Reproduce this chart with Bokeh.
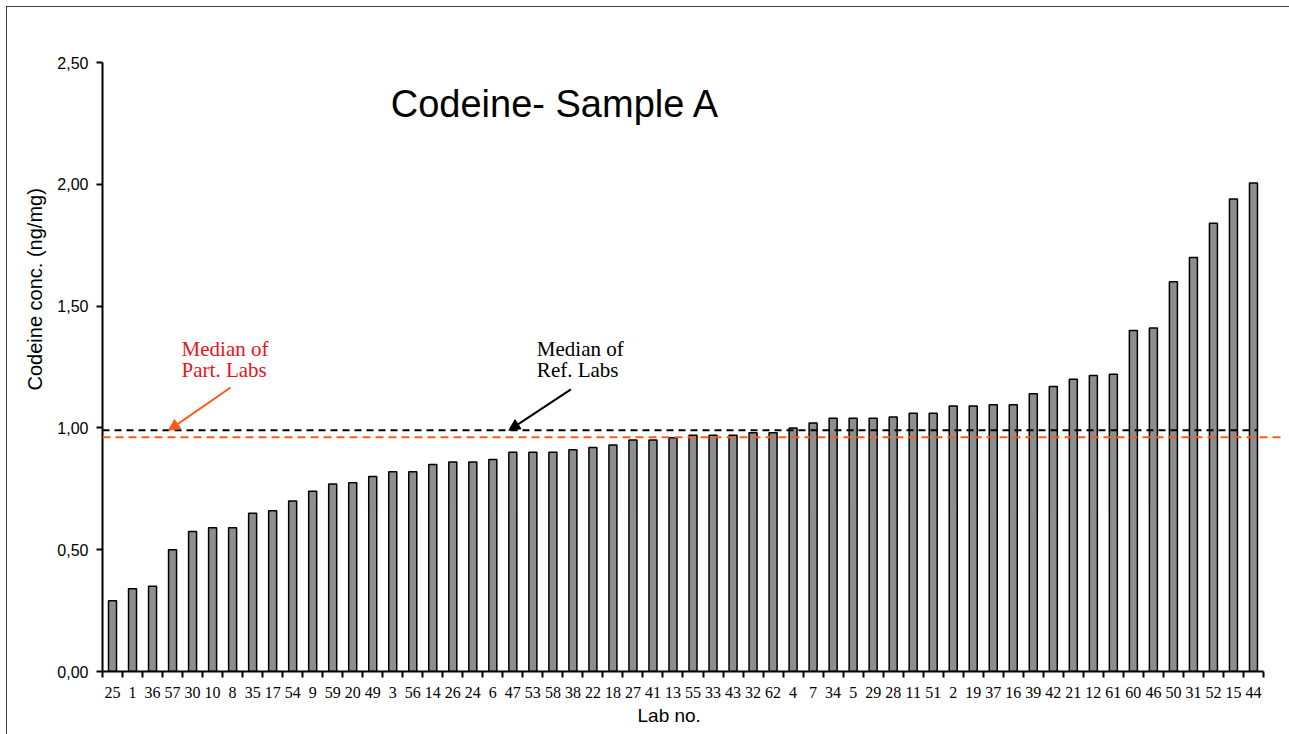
from bokeh.plotting import figure
from bokeh.models import FixedTicker, Label, Arrow, NormalHead, Range1d, Span, Title
from bokeh.embed import file_html
from bokeh.resources import INLINE

labs = ["25", "1", "36", "57", "30", "10", "8", "35", "17", "54",
        "9", "59", "20", "49", "3", "56", "14", "26", "24", "6",
        "47", "53", "58", "38", "22", "18", "27", "41", "13", "55",
        "33", "43", "32", "62", "4", "7", "34", "5", "29", "28",
        "11", "51", "2", "19", "37", "16", "39", "42", "21", "12",
        "61", "60", "46", "50", "31", "52", "15", "44"]
conc = [0.29, 0.34, 0.35, 0.50, 0.575, 0.59, 0.59, 0.65, 0.66, 0.70,
        0.74, 0.77, 0.775, 0.80, 0.82, 0.82, 0.85, 0.86, 0.86, 0.87,
        0.90, 0.90, 0.90, 0.91, 0.92, 0.93, 0.95, 0.95, 0.96, 0.97,
        0.97, 0.97, 0.98, 0.98, 1.00, 1.02, 1.04, 1.04, 1.04, 1.045,
        1.06, 1.06, 1.09, 1.09, 1.095, 1.095, 1.14, 1.17, 1.20, 1.215,
        1.22, 1.40, 1.41, 1.60, 1.70, 1.84, 1.94, 2.005]
ref_median = 0.99
part_median = 0.962
y_ticks = [0.0, 0.5, 1.0, 1.5, 2.0, 2.5]
y_tick_labels = ["0,00", "0,50", "1,00", "1,50", "2,00", "2,50"]

n = len(labs)
xs = list(range(1, n + 1))

p = figure(width=1283, height=728, x_range=Range1d(0.5, n + 1.4), y_range=Range1d(0, 2.5),
           output_backend="svg", toolbar_location=None,
           min_border_left=96, min_border_right=8, min_border_top=56, min_border_bottom=63)
p.styles = {"outline": "2px solid black", "outline-offset": "-2px",
            "margin-left": "6px", "margin-top": "6px"}
p.outline_line_color = None
p.xgrid.visible = False
p.ygrid.visible = False
p.background_fill_color = "white"
p.border_fill_color = "white"

p.vbar(x=xs, top=conc, width=0.4, fill_color="#8e8e8e", line_color="black", line_width=1.5)

# medians
p.segment(x0=[0.5], y0=[ref_median], x1=[n + 0.2], y1=[ref_median],
          line_color="black", line_width=2, line_dash="7 5")
p.add_layout(Span(location=part_median, dimension="width", line_color="#ff5a1a",
                  line_width=2, line_dash="8 5"))

# y axis
ya = p.yaxis[0]
ya.ticker = FixedTicker(ticks=y_ticks, minor_ticks=[])
ya.major_label_overrides = dict(zip(y_ticks, y_tick_labels))
ya.axis_line_color = "black"
ya.axis_line_width = 2
ya.major_tick_in = 0
ya.major_tick_out = 6
ya.major_tick_line_width = 2
ya.minor_tick_out = 0
ya.minor_tick_in = 0
ya.major_label_text_font = "Liberation Sans"
ya.major_label_text_font_size = "16px"
ya.major_label_text_color = "black"
ya.major_label_standoff = 8

# y title as a side-panel title
p.add_layout(Title(text="Codeine conc. (ng/mg)", align="left", offset=281, standoff=18,
                   text_font="Liberation Sans", text_font_style="normal",
                   text_font_size="20px", text_color="black"), "left")

# x axis
xa = p.xaxis[0]
xa.bounds = (0.5, n + 0.5)
xa.ticker = FixedTicker(ticks=xs, minor_ticks=[i + 0.5 for i in range(n + 1)])
xa.major_label_overrides = {x: l for x, l in zip(xs, labs)}
xa.axis_line_color = "black"
xa.axis_line_width = 2
xa.major_tick_in = 0
xa.major_tick_out = 0
xa.minor_tick_in = 0
xa.minor_tick_out = 6
xa.minor_tick_line_width = 2
xa.minor_tick_line_color = "black"
xa.major_label_text_font = "Liberation Serif"
xa.major_label_text_font_size = "16px"
xa.major_label_text_color = "black"
xa.major_label_standoff = 9

p.add_layout(Title(text="Lab no.", align="left", offset=535, standoff=5,
                   text_font="Liberation Sans", text_font_style="normal",
                   text_font_size="19px", text_color="black"), "below")

# title
p.add_layout(Label(x=14.9, y=2.328, text="Codeine- Sample A", text_align="left",
                   text_baseline="alphabetic", text_font="Liberation Sans",
                   text_font_size="38px", text_color="black"))

# annotations
red = "#e8141c"
orange = "#ff5a1a"
for txt, yy in (("Median of", 1.322), ("Part. Labs", 1.236)):
    p.add_layout(Label(x=4.45, y=yy, text=txt, text_align="left", text_baseline="alphabetic",
                       text_font="Liberation Serif", text_font_size="21px", text_color=red))
for txt, yy in (("Median of", 1.322), ("Ref. Labs", 1.236)):
    p.add_layout(Label(x=22.2, y=yy, text=txt, text_align="left", text_baseline="alphabetic",
                       text_font="Liberation Serif", text_font_size="21px", text_color="black"))

p.add_layout(Arrow(end=NormalHead(size=11, fill_color=orange, line_color=orange),
                   x_start=6.9, y_start=1.166, x_end=3.8, y_end=0.99,
                   line_color=orange, line_width=2))
p.add_layout(Arrow(end=NormalHead(size=11, fill_color="black", line_color="black"),
                   x_start=23.9, y_start=1.158, x_end=20.8, y_end=0.99,
                   line_color="black", line_width=2))

open("out.html", "w").write(file_html(p, INLINE))
